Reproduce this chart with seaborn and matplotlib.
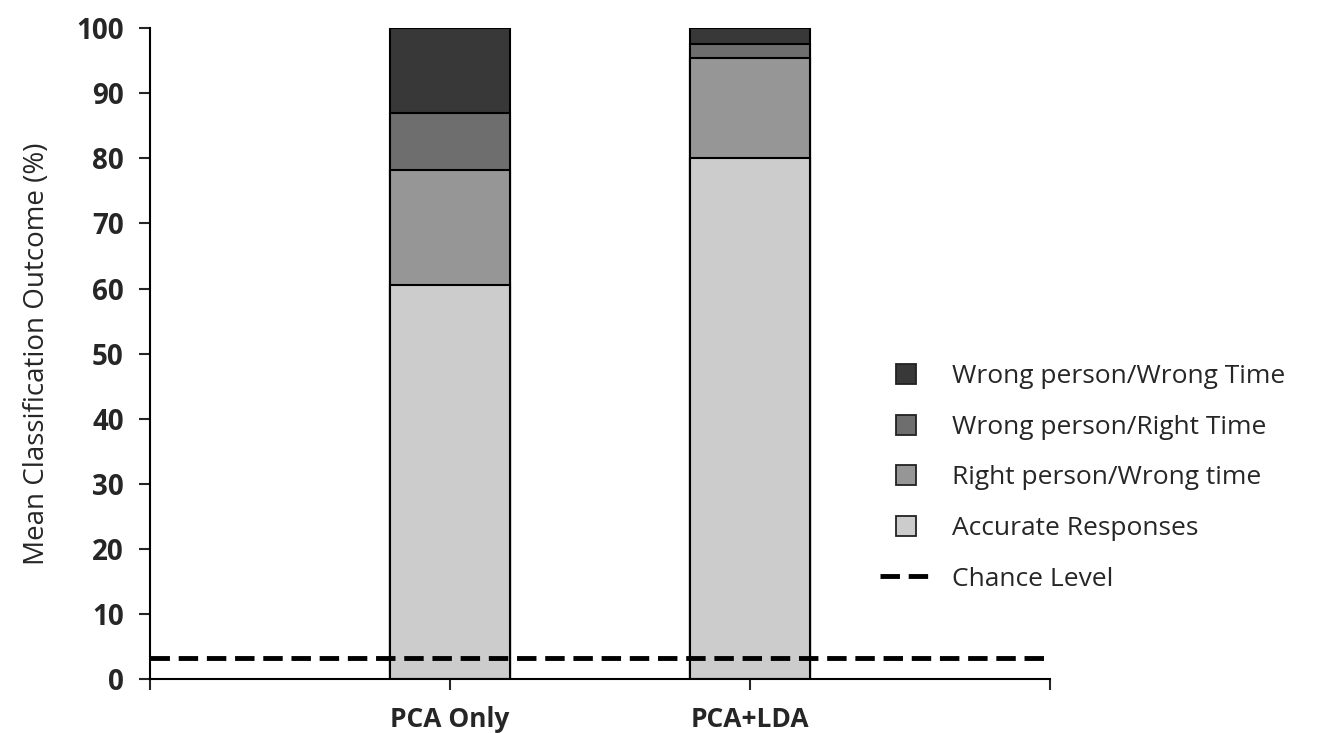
import pandas as pd
import matplotlib.pyplot as plt
import seaborn as sns
from matplotlib.lines import Line2D

# data
methods = ["PCA Only", "PCA+LDA"]
accurate = [60.6, 80.0]
right_person_wrong_time = [17.6, 15.4]
wrong_person_right_time = [8.8, 2.1]
wrong_person_wrong_time = [13.0, 2.5]
chance_level = 3.3

series_names = ["Accurate Responses", "Right person/Wrong time",
                "Wrong person/Right Time", "Wrong person/Wrong Time"]
series_colors = ["#CCCCCC", "#969696", "#6E6E6E", "#383838"]

df = pd.DataFrame({
    "Method": methods,
    series_names[0]: accurate,
    series_names[1]: right_person_wrong_time,
    series_names[2]: wrong_person_right_time,
    series_names[3]: wrong_person_wrong_time,
})
# cumulative tops for stacking (draw tallest first)
cum = df[series_names].cumsum(axis=1)
cum["Method"] = df["Method"]

sns.set_style("white")
plt.rcParams["font.family"] = ["Open Sans", "DejaVu Sans"]

fig = plt.figure(figsize=(13.17, 7.33), dpi=100)
ax = fig.add_axes([0.114, 0.073, 0.683, 0.889])

for name, col in reversed(list(zip(series_names, series_colors))):
    sns.barplot(data=cum, x="Method", y=name, color=col, width=0.4,
                edgecolor="black", linewidth=1.5, saturation=1, ax=ax, zorder=2)

dash = (0, (4, 1.8))
ax.axhline(chance_level, color="black", lw=3.5, ls=dash, zorder=3)

ax.set_xlim(-1, 2)
ax.set_ylim(0, 100)
ax.set_xticks([-1, 0, 1, 2])
ax.set_xticklabels(["", "PCA Only", "PCA+LDA", ""], fontsize=19, fontweight="bold")
ax.set_yticks(range(0, 101, 10))
ax.set_yticklabels([str(v) for v in range(0, 101, 10)], fontsize=20, fontweight="bold")
ax.tick_params(axis="x", direction="out", length=8, width=1.5, pad=11, bottom=True)
ax.tick_params(axis="y", direction="out", length=8, width=1.5, pad=11, left=True)
ax.set_xlabel("")
ax.set_ylabel("Mean Classification Outcome (%)", fontsize=20, labelpad=18)

sns.despine(ax=ax)
for s in ["left", "bottom"]:
    ax.spines[s].set_color("black")
    ax.spines[s].set_linewidth(1.5)

handles = [Line2D([0], [0], ls="none", marker="s", markersize=15,
                  markerfacecolor=c, markeredgecolor="#222222", markeredgewidth=1.3)
           for c in reversed(series_colors)]
handles.append(Line2D([0], [0], color="black", lw=3.5, ls=dash))
labels = list(reversed(series_names)) + ["Chance Level"]
fig.legend(handles, labels, loc="upper left", bbox_to_anchor=(0.668, 0.503),
           frameon=False, fontsize=19, labelspacing=0.97, handlelength=2.0,
           handletextpad=0.75, borderpad=0, borderaxespad=0)

fig.savefig("out.png", dpi=100)
